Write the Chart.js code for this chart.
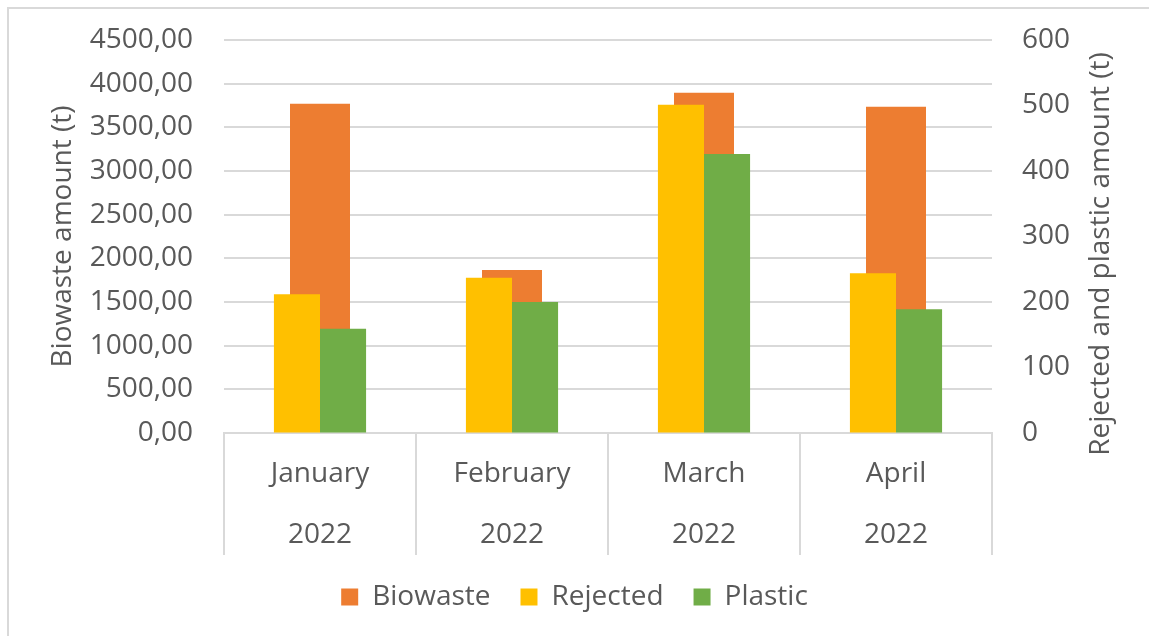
<!DOCTYPE html>
<html>
<head>
<meta charset="utf-8">
<script src="https://cdn.jsdelivr.net/npm/chart.js@4/dist/chart.umd.min.js"></script>
<style>
  html, body { margin: 0; padding: 0; background: #ffffff; }
  #wrap { width: 1149px; height: 636px; position: relative; }
</style>
</head>
<body>
<div id="wrap"><canvas id="c" width="1149" height="636"></canvas></div>
<script>
const months = ["January", "February", "March", "April"];
const years = ["2022", "2022", "2022", "2022"];
const biowaste = [3770, 1865, 3895, 3735];
const rejected = [212, 237, 501, 244];
const plastic = [159, 200, 426, 189];
const leftTicks = [0, 500, 1000, 1500, 2000, 2500, 3000, 3500, 4000, 4500];
const rightTicks = [0, 100, 200, 300, 400, 500, 600];

const FONT = "'Open Sans', 'Liberation Sans', sans-serif";
const TXT = "#595959";
const GRID = "#d9d9d9";
const FS = 28;

const labels = months.map((m, i) => [m, years[i]]);

const decor = {
  id: 'decor',
  beforeDraw(chart) {
    const ctx = chart.ctx;
    ctx.save();
    ctx.strokeStyle = GRID;
    ctx.lineWidth = 2;
    ctx.beginPath();
    ctx.moveTo(8, 636);
    ctx.lineTo(8, 8);
    ctx.lineTo(1149, 8);
    ctx.stroke();
    ctx.restore();
  },
  afterDraw(chart) {
    const ctx = chart.ctx;
    ctx.save();
    ctx.fillStyle = TXT;
    ctx.font = FS + "px " + FONT;
    ctx.textAlign = 'center';
    ctx.textBaseline = 'middle';
    ctx.translate(1101, 254);
    ctx.rotate(-Math.PI / 2);
    ctx.fillText("Rejected and plastic amount (t)", 0, 0);
    ctx.restore();
  }
};

new Chart(document.getElementById('c'), {
  type: 'bar',
  data: {
    labels: labels,
    datasets: [
      { label: 'Biowaste', data: biowaste, yAxisID: 'y', backgroundColor: '#ED7D31',
        grouped: false, categoryPercentage: 1, barPercentage: 0.3125, order: 2 },
      { label: 'Rejected', data: rejected, yAxisID: 'y1', backgroundColor: '#FFC000',
        categoryPercentage: 0.48, barPercentage: 1, order: 1 },
      { label: 'Plastic', data: plastic, yAxisID: 'y1', backgroundColor: '#70AD47',
        categoryPercentage: 0.48, barPercentage: 1, order: 1 }
    ]
  },
  options: {
    responsive: false,
    animation: false,
    layout: { padding: { top: 40, left: 0, right: 0, bottom: 15 } },
    plugins: {
      tooltip: { enabled: false },
      legend: {
        position: 'bottom',
        labels: {
          sort: (a, b) => a.datasetIndex - b.datasetIndex,
          boxWidth: 17, boxHeight: 17, padding: 30,
          color: TXT, font: { family: FONT, size: FS }
        }
      }
    },
    scales: {
      x: {
        position: 'bottom',
        grid: { drawOnChartArea: false, offset: true, drawTicks: true, tickLength: 122, color: GRID, tickColor: GRID, lineWidth: 2 },
        border: { display: true, color: GRID, width: 2 },
        ticks: { color: TXT, font: { family: FONT, size: FS, lineHeight: 61 / FS }, padding: -111.5, maxRotation: 0, autoSkip: false },
        afterFit(s) { s.height = 120; }
      },
      y: {
        position: 'left',
        min: 0, max: 4500,
        afterBuildTicks(s) { s.ticks = leftTicks.map(v => ({ value: v })); },
        grid: { color: GRID, drawTicks: false, lineWidth: 2 },
        border: { display: false },
        ticks: {
          color: TXT, font: { family: FONT, size: FS }, padding: 31,
          callback: v => v.toFixed(2).replace('.', ',')
        },
        title: { display: true, text: 'Biowaste amount (t)', color: TXT, font: { family: FONT, size: FS }, padding: { top: 46, bottom: 0 } },
        afterFit(s) { s.width = 224; s.paddingTop = 0; s.paddingBottom = 0; }
      },
      y1: {
        position: 'right',
        min: 0, max: 600,
        afterBuildTicks(s) { s.ticks = rightTicks.map(v => ({ value: v })); },
        grid: { drawOnChartArea: false, drawTicks: false },
        border: { display: false },
        ticks: { color: TXT, font: { family: FONT, size: FS }, padding: 30 },
        afterFit(s) { s.width = 157; s.paddingTop = 0; s.paddingBottom = 0; }
      }
    }
  },
  plugins: [decor]
});
</script>
</body>
</html>
